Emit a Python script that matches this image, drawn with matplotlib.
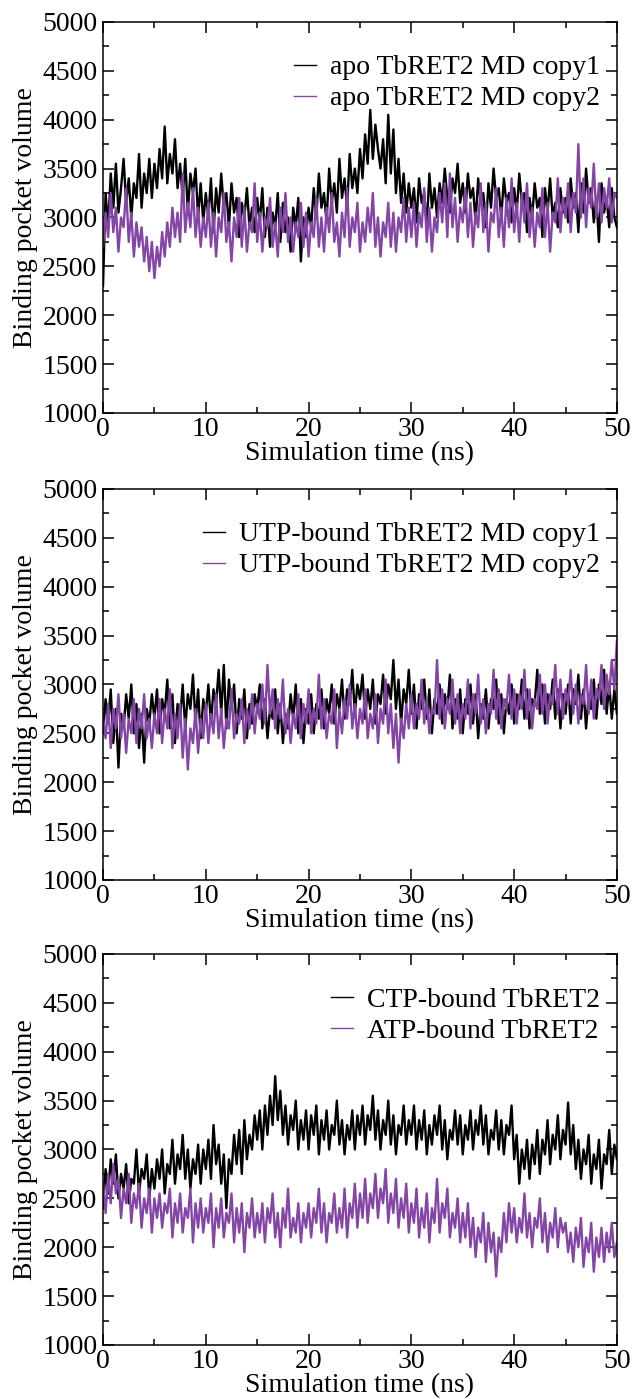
import matplotlib.pyplot as plt
import numpy as np
from matplotlib.ticker import MultipleLocator

# time axis, one value every 0.25 ns
time_ns = np.arange(0, 50.25, 0.25)

apo_copy1 = [
    2300, 3250, 2900, 3450, 3100, 3550, 3050, 3300, 3600, 3150, 3400, 3000, 3350, 3200, 3650, 3100, 3450, 3250, 3600, 3200,
    3550, 3300, 3700, 3400, 3930, 3350, 3650, 3450, 3800, 3300, 3550, 3200, 3600, 3050, 3450, 3250, 3500, 3000, 3350, 2950,
    3250, 3000, 3400, 2850, 3300, 3050, 3450, 3100, 3250, 2900, 3350, 3050, 3200, 2800, 3150, 3000, 3300, 2900, 3100, 2850,
    3200, 2950, 3300, 2800, 3100, 2700, 3050, 2900, 3250, 2750, 3150, 2850, 3000, 2650, 3100, 2900, 3200, 2550, 3000, 2800,
    3100, 2900, 3300, 3000, 3450, 3100, 3250, 2950, 3500, 3150, 3350, 3050, 3600, 3200, 3400, 3100, 3650, 3300, 3500, 3250,
    3700, 3400, 3850, 3550, 4100, 3600, 3950, 3700, 3500, 3800, 3350, 4050, 3450, 3900, 3250, 3600, 3150, 3450, 3050, 3350,
    3100, 3300, 2950, 3400, 3150, 3250, 2900, 3450, 3100, 3300, 3000, 3350, 3150, 3500, 3200, 3050, 3400, 3250, 3550, 3150,
    3350, 3050, 3450, 3200, 3300, 2950, 3400, 3150, 3250, 2900, 3350, 3100, 3500, 3200, 3300, 3000, 3400, 3150, 3250, 2950,
    3300, 3050, 3450, 3150, 3250, 2850, 3200, 3000, 3350, 3100, 3200, 2800, 3300, 3050, 3400, 3000, 3150, 2900, 3300, 3050,
    3200, 2950, 3400, 3100, 3250, 2850, 3350, 3050, 3500, 3150, 3300, 2950, 3200, 2750, 3350, 3050, 3200, 2900, 3300, 3000,
    2900,
]
apo_copy2 = [
    2700, 3050, 2800, 3250, 2850, 3100, 2650, 3000, 2900, 3300, 2750, 3050, 2600, 2950, 2700, 2900, 2550, 2800, 2450, 2750,
    2380, 2700, 2500, 2850, 2600, 2950, 2700, 3100, 2800, 3050, 2750, 3450, 2850, 3150, 2900, 3300, 2800, 3100, 2700, 3000,
    2800, 3150, 2700, 3050, 2600, 3000, 2850, 3250, 2750, 2950, 2550, 3000, 2800, 3200, 2700, 3100, 2650, 2950, 2850, 3350,
    2750, 3050, 2650, 3000, 2900, 3200, 2700, 2950, 2600, 3100, 2850, 3250, 2750, 3000, 2650, 2950, 2800, 3150, 2700, 3050,
    2600, 2950, 2800, 3200, 2700, 3000, 2650, 3100, 2850, 3250, 2750, 2950, 2600, 3050, 2800, 3300, 2700, 3000, 2850, 3150,
    2650, 2950, 2750, 3100, 2850, 3250, 2700, 3000, 2600, 2950, 2800, 3150, 2700, 3050, 2650, 3000, 2850, 3200, 2750, 3100,
    2800, 3150, 2700, 3050, 2900, 3300, 2750, 3100, 2650, 3000, 2850, 3250, 2950, 3350, 2800, 3450, 2900, 3200, 2750, 3100,
    2950, 3300, 2800, 3150, 2700, 3050, 2900, 3350, 2850, 3150, 2650, 3050, 2950, 3300, 2800, 3100, 2700, 3200, 2900, 3400,
    2850, 3150, 2750, 3250, 2950, 3350, 2800, 3100, 2700, 3050, 2900, 3300, 2800, 3150, 2650, 3050, 2950, 3400, 2850, 3200,
    3000, 3350, 2850, 3250, 3050, 3750, 3000, 3400, 2900, 3300, 3100, 3550, 3000, 3350, 2950, 3300, 3100, 3400, 2950, 3250,
    3200,
]
utp_copy1 = [
    2500, 2850, 2600, 2950, 2400, 2750, 2150, 2700, 2550, 2900, 2650, 3000, 2500, 2800, 2350, 2700, 2200, 2750, 2600, 2900,
    2650, 2950, 2500, 2850, 2700, 3050, 2550, 2900, 2400, 2800, 2650, 3000, 2550, 2900, 2750, 3100, 2600, 2950, 2450, 2850,
    2700, 3000, 2600, 2950, 2800, 3150, 2700, 3200, 2550, 3050, 2750, 3000, 2500, 2850, 2650, 2950, 2450, 2800, 2600, 2900,
    2750, 3000, 2550, 2850, 2450, 2750, 2650, 2950, 2500, 2800, 2400, 2700, 2550, 2900, 2650, 3000, 2500, 2850, 2400, 2750,
    2600, 2900, 2500, 2800, 2650, 2950, 2550, 2850, 2700, 3000, 2600, 2900, 2750, 3050, 2650, 2950, 2800, 3150, 2700, 3000,
    2850, 3100, 2650, 2950, 2750, 3050, 2600, 2900, 2800, 3100, 2700, 3000, 2850, 3250, 2750, 3050, 2600, 2950, 2800, 3150,
    2700, 3000, 2550, 2900, 2750, 3050, 2650, 2950, 2500, 2850, 2700, 3000, 2600, 2900, 2750, 3100, 2550, 2850, 2650, 2950,
    2500, 2850, 2700, 3000, 2600, 2900, 2450, 2800, 2650, 2950, 2550, 2850, 2750, 3050, 2600, 2900, 2500, 2850, 2700, 3000,
    2600, 2900, 2750, 3050, 2650, 2950, 2550, 2850, 2800, 3150, 2700, 3000, 2600, 2900, 2750, 3050, 2650, 2950, 2550, 2900,
    2700, 3000, 2600, 2950, 2800, 3100, 2650, 2950, 2550, 2900, 2750, 3050, 2650, 3000, 2800, 3150, 2700, 3000, 2650, 2950,
    2700,
]
utp_copy2 = [
    2650, 2450, 2800, 2350, 2750, 2550, 2900, 2450, 2700, 2300, 2650, 2500, 2850, 2400, 2750, 2550, 2900, 2450, 2650, 2350,
    2700, 2500, 2850, 2400, 2750, 2550, 2950, 2350, 2700, 2450, 2800, 2250, 2650, 2130, 2550, 2400, 2750, 2300, 2650, 2450,
    2800, 2400, 2700, 2500, 2900, 2450, 2750, 2350, 2650, 2550, 2950, 2450, 2700, 2600, 2850, 2400, 2750, 2550, 2900, 2500,
    2800, 2650, 3000, 2600, 3200, 2700, 2950, 2550, 2850, 2650, 3050, 2500, 2750, 2400, 2700, 2550, 2900, 2450, 2800, 2600,
    2950, 2500, 2750, 2600, 3100, 2550, 2850, 2450, 2700, 2600, 2950, 2350, 2750, 2500, 2850, 2650, 3000, 2550, 2800, 2450,
    2750, 2600, 2950, 2450, 2700, 2550, 2900, 2400, 2750, 2600, 3050, 2500, 2800, 2350, 2700, 2200, 2650, 2450, 2800, 2550,
    2900, 2550, 2800, 2650, 3050, 2600, 2850, 2500, 2750, 2700, 3250, 2650, 2950, 2550, 2850, 2700, 3050, 2600, 2900, 2500,
    2800, 2650, 3050, 2550, 2900, 2700, 3100, 2600, 2850, 2500, 2800, 2700, 3150, 2650, 2950, 2550, 2850, 2750, 3100, 2650,
    2950, 2600, 2900, 2750, 3150, 2650, 2950, 2550, 2850, 2750, 3100, 2700, 3000, 2600, 2900, 2800, 3200, 2700, 3050, 2650,
    2950, 2800, 3150, 2700, 3000, 2600, 2900, 2800, 3200, 2700, 3050, 2650, 2950, 2850, 3200, 2750, 3100, 2900, 3250, 2950,
    3450,
]
ctp_bound = [
    2400, 2800, 2550, 2900, 2650, 2950, 2500, 2750, 2600, 2850, 2450, 2700, 2650, 3000, 2550, 2800, 2700, 2950, 2500, 2800,
    2600, 2900, 2700, 3000, 2550, 2850, 2750, 3100, 2650, 2950, 2800, 3150, 2700, 3000, 2600, 2900, 2750, 3050, 2650, 3000,
    2800, 3100, 2700, 3250, 2850, 3050, 2650, 2950, 2400, 2900, 2750, 3150, 2850, 3200, 2750, 3300, 2900, 3150, 3000, 3350,
    3100, 3400, 3000, 3450, 3150, 3550, 3250, 3750, 3300, 3600, 3150, 3450, 3050, 3350, 3200, 3500, 3000, 3300, 3100, 3400,
    3000, 3350, 3150, 3450, 2950, 3300, 3100, 3400, 3000, 3250, 3150, 3500, 3050, 3300, 2950, 3250, 3100, 3400, 3000, 3350,
    3150, 3450, 3050, 3350, 3200, 3550, 3100, 3400, 3000, 3300, 3150, 3500, 3050, 3350, 2950, 3250, 3150, 3450, 3050, 3300,
    3150, 3450, 3000, 3300, 3100, 3400, 2950, 3250, 3050, 3350, 3150, 3450, 3000, 3300, 2900, 3200, 3100, 3400, 3050, 3350,
    2950, 3250, 3100, 3400, 3000, 3300, 3150, 3450, 3050, 3350, 2950, 3200, 3100, 3400, 3000, 3300, 2950, 3250, 3150, 3450,
    2900, 3150, 2650, 3000, 2800, 3100, 2700, 3050, 2850, 3200, 2750, 3100, 2950, 3300, 2850, 3150, 3000, 3350, 2900, 3200,
    3050, 3480, 2950, 3250, 2800, 3100, 2700, 3000, 2850, 3150, 2650, 2950, 2800, 3100, 2600, 2950, 2850, 3200, 2750, 3050,
    2900,
]
atp_bound = [
    2650, 2350, 2750, 2450, 2850, 2550, 2700, 2300, 2600, 2450, 2750, 2250, 2550, 2400, 2650, 2200, 2500, 2350, 2600, 2150,
    2500, 2300, 2550, 2200, 2450, 2350, 2600, 2100, 2450, 2250, 2550, 2150, 2400, 2300, 2600, 2050, 2450, 2200, 2500, 2150,
    2400, 2250, 2550, 2000, 2400, 2200, 2500, 2100, 2350, 2250, 2550, 2050, 2400, 2150, 2450, 1950, 2350, 2200, 2500, 2100,
    2350, 2150, 2450, 2050, 2400, 2250, 2550, 2100, 2350, 2000, 2400, 2200, 2600, 2100, 2300, 2150, 2450, 2050, 2350, 2200,
    2450, 2100, 2400, 2250, 2600, 2150, 2450, 2050, 2350, 2250, 2550, 2150, 2400, 2200, 2600, 2100, 2450, 2300, 2650, 2200,
    2550, 2300, 2700, 2250, 2550, 2400, 2750, 2300, 2600, 2450, 2800, 2250, 2550, 2350, 2700, 2200, 2500, 2300, 2650, 2150,
    2450, 2250, 2600, 2100, 2400, 2200, 2550, 2050, 2400, 2250, 2700, 2150, 2450, 2300, 2600, 2100, 2350, 2200, 2500, 2050,
    2350, 2100, 2450, 2000, 2300, 1900, 2200, 2050, 2350, 1850, 2250, 1950, 2150, 1700, 2100, 1950, 2350, 2050, 2450, 2150,
    2400, 2050, 2300, 2150, 2550, 2100, 2350, 2000, 2300, 2200, 2500, 2050, 2350, 1950, 2250, 2100, 2400, 2000, 2300, 2150,
    2250, 1950, 2150, 1850, 2200, 2000, 2300, 1800, 2100, 1950, 2250, 1750, 2100, 1900, 2200, 1850, 2150, 1950, 2250, 1900,
    2050,
]

panels = [
    (apo_copy1, apo_copy2, "apo TbRET2 MD copy1", "apo TbRET2 MD copy2"),
    (utp_copy1, utp_copy2, "UTP-bound TbRET2 MD copy1", "UTP-bound TbRET2 MD copy2"),
    (ctp_bound, atp_bound, "CTP-bound TbRET2", "ATP-bound TbRET2"),
]

plt.rcParams['font.family'] = ['Liberation Serif', 'DejaVu Serif']
purple = '#8446a6'

fig = plt.figure(figsize=(6.36, 13.99), dpi=100)
bottoms = [0.7048, 0.3710, 0.0386]

for (s1, s2, lab1, lab2), b in zip(panels, bottoms):
    ax = fig.add_axes([0.162, b, 0.808, 0.2795])
    ax.plot(time_ns, s1, color='black', lw=1.7, label=lab1)
    ax.plot(time_ns, s2, color=purple, lw=1.7, label=lab2)
    ax.set_xlim(0, 50)
    ax.set_ylim(1000, 5000)
    ax.xaxis.set_major_locator(MultipleLocator(10))
    ax.xaxis.set_minor_locator(MultipleLocator(5))
    ax.yaxis.set_major_locator(MultipleLocator(500))
    ax.yaxis.set_minor_locator(MultipleLocator(250))
    ax.tick_params(which='both', direction='in', top=True, right=True, width=1.1)
    ax.tick_params(which='major', length=8, labelsize=20)
    ax.tick_params(axis='x', which='major', pad=3)
    ax.tick_params(axis='y', which='major', pad=4)
    ax.tick_params(which='minor', length=4)
    for sp in ax.spines.values():
        sp.set_linewidth(1.1)
    ax.set_xlabel("Simulation time (ns)", fontsize=20, labelpad=-1)
    ax.set_ylabel("Binding pocket volume", fontsize=20, labelpad=3)
    leg = ax.legend(loc='upper right', bbox_to_anchor=(1.0, 0.958), frameon=False,
                    fontsize=20, handlelength=0.8, handletextpad=0.5,
                    labelspacing=0.2, borderaxespad=0.2)
    for h in leg.get_lines():
        h.set_linewidth(1.0)

fig.savefig('out.png', dpi=100)
